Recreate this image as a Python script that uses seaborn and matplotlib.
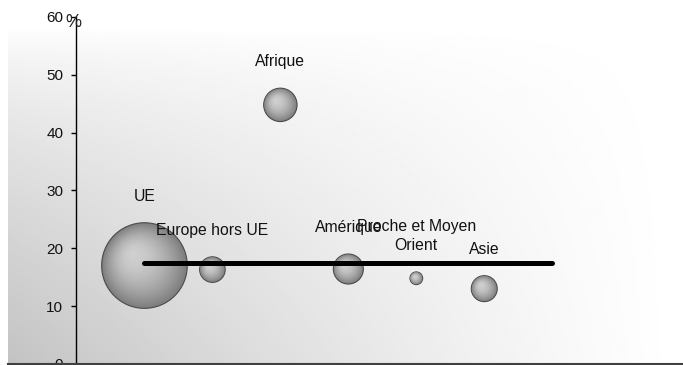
import numpy as np
import pandas as pd
import matplotlib
matplotlib.use("Agg")
import matplotlib.pyplot as plt
import matplotlib.transforms as mtransforms
import seaborn as sns

# Données : zones d'origine, position, part (%) et poids des bulles
zones = ["UE", "Europe hors UE", "Afrique", "Amérique", "Proche et Moyen\nOrient", "Asie"]
rang = [1, 2, 3, 4, 5, 6]
part = [17.0, 16.3, 44.8, 16.4, 14.8, 13.0]
poids = [100.0, 8.9, 15.2, 12.3, 2.2, 9.2]
moyenne = 17.5
moyenne_x = [1, 7]
yticks = [0, 10, 20, 30, 40, 50, 60]

df = pd.DataFrame({"zone": zones, "rang": rang, "part": part, "poids": poids})

sns.set_theme(style="white")
plt.rcParams["font.family"] = ["Liberation Sans", "DejaVu Sans"]

W, H, DPI = 683, 365, 100
fig = plt.figure(figsize=(W / DPI, H / DPI), dpi=DPI)
fig.patch.set_facecolor("white")

# Fond dégradé (gris en bas à gauche, blanc en haut à droite)
bg = fig.add_axes([8 / W, 0, (W - 8) / W, (H - 28) / H], zorder=0)
u = np.linspace(0, 1, 300)
v = np.linspace(0, 1, 200)
U, V = np.meshgrid(u, v)
dark = 60 * (1 - U) ** 1.2 * (1 - V) ** 0.7
img = (255 - dark) / 255
bg.imshow(img, cmap="gray", vmin=0, vmax=1, origin="lower", aspect="auto",
          extent=[0, 1, 0, 1], interpolation="bilinear")
bg.set_axis_off()

# Axe principal
px_x = 67.96  # pixels par unité en x
x0_px = 76.5
ax = fig.add_axes([8 / W, (H - 363.8) / H, (W - 8) / W, 346.8 / H], zorder=1)
ax.patch.set_alpha(0)
ax.set_xlim(-(x0_px - 8) / px_x, (W - x0_px) / px_x)
ax.set_ylim(0, 60)

smax = (2 * 42.8 * 72 / DPI) ** 2
sns.scatterplot(data=df, x="rang", y="part", size="poids", sizes=(0, smax),
                size_norm=(0, 100), color="#808080", edgecolor="#4a4a4a",
                linewidth=0.8, legend=False, ax=ax, zorder=3)

# Reflet : disques concentriques de plus en plus clairs, décalés vers le haut à gauche
for _, row in df.iterrows():
    s_full = smax * row["poids"] / 100
    r_pt = np.sqrt(s_full) / 2
    for f in np.linspace(0.95, 0.05, 28):
        lvl = (208 - 82 * f ** 1.8) / 255
        dx = -0.28 * (1 - f) * r_pt
        dy = 0.28 * (1 - f) * r_pt
        tr = ax.transData + mtransforms.ScaledTranslation(dx / 72, dy / 72, fig.dpi_scale_trans)
        ax.scatter([row["rang"]], [row["part"]], s=s_full * f ** 2,
                   color=(lvl, lvl, lvl), edgecolors="none", transform=tr, zorder=4)

# Ligne de la moyenne
sns.lineplot(x=moyenne_x, y=[moyenne, moyenne], color="black", linewidth=3.6,
             solid_capstyle="round", ax=ax, zorder=6)

# Étiquettes au-dessus des bulles
for _, row in df.iterrows():
    r_px = np.sqrt(smax * row["poids"] / 100) / 2 * DPI / 72
    ax.annotate(row["zone"], (row["rang"], row["part"]),
                xytext=(0, (r_px + 19) * 72 / DPI), textcoords="offset points",
                ha="center", va="bottom", fontsize=11.3, color="#111111",
                linespacing=1.35, zorder=7)

# Axes
for side in ["top", "right"]:
    ax.spines[side].set_visible(False)
ax.spines["left"].set_position(("data", 0))
ax.spines["left"].set_bounds(0, 60)
ax.spines["left"].set_color("black")
ax.spines["left"].set_linewidth(1.0)
ax.spines["bottom"].set_color("#404040")
ax.spines["bottom"].set_linewidth(1.5)
ax.set_xticks([])
ax.set_yticks(yticks)
ax.set_yticklabels([str(t) for t in yticks])
ax.tick_params(axis="y", left=True, direction="out", length=3.5, width=1,
               color="black", pad=6, labelsize=11, labelcolor="#111111")
ax.set_xlabel("")
ax.set_ylabel("")
ax.annotate("%", (0, 60), xytext=(-2.2, -3.8), textcoords="offset points",
            ha="center", va="center", fontsize=13, color="#222222",
            annotation_clip=False, zorder=8)

fig.savefig("out.png", dpi=DPI)
